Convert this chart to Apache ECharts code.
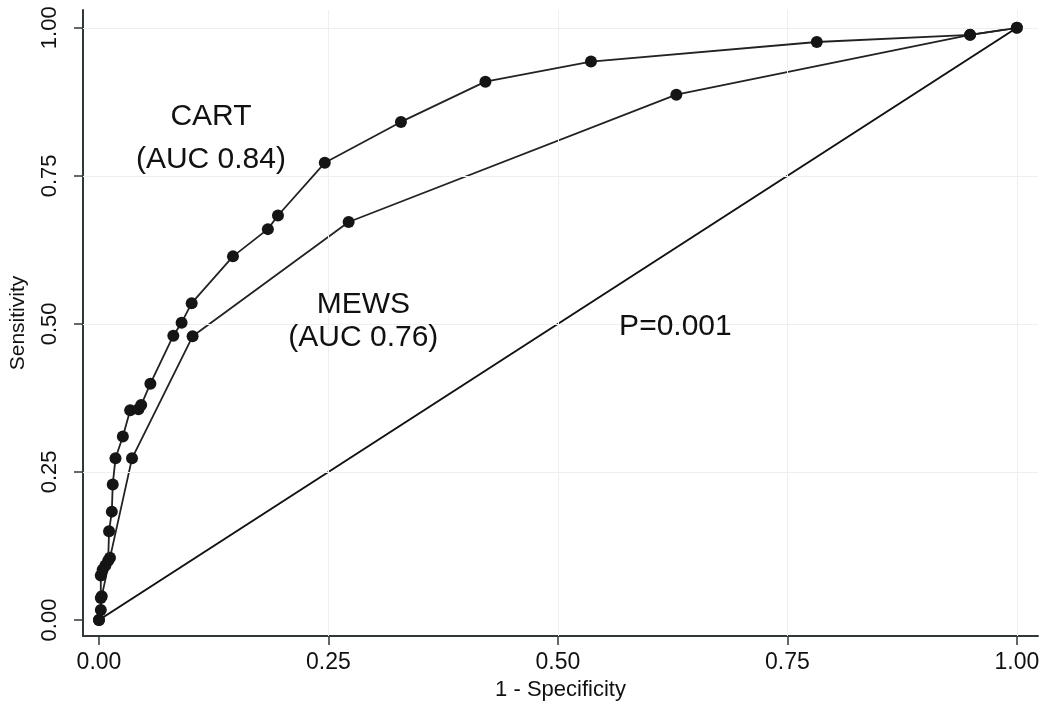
<!DOCTYPE html>
<html>
<head>
<meta charset="utf-8">
<script src="https://cdn.jsdelivr.net/npm/echarts@6/dist/echarts.min.js"></script>
<style>
html,body{margin:0;padding:0;background:#fff;}
#chart{width:1050px;height:717px;}
</style>
</head>
<body>
<div id="chart"></div>
<script>
// ---- Data ----
const tickValues = [0, 0.25, 0.5, 0.75, 1];
const gridValues = [0.25, 0.5, 0.75, 1];

const cartX = [0, 0.002, 0.002, 0.002, 0.004, 0.007, 0.010, 0.011, 0.014, 0.015, 0.018, 0.026, 0.034, 0.043, 0.046, 0.056, 0.081, 0.090, 0.101, 0.146, 0.184, 0.195, 0.246, 0.329, 0.421, 0.536, 0.782, 0.949, 1];
const cartY = [0, 0.017, 0.037, 0.075, 0.085, 0.092, 0.100, 0.150, 0.183, 0.229, 0.273, 0.310, 0.354, 0.356, 0.363, 0.399, 0.480, 0.502, 0.535, 0.614, 0.660, 0.683, 0.772, 0.841, 0.909, 0.943, 0.976, 0.988, 1];

const mewsX = [0, 0.003, 0.012, 0.036, 0.102, 0.272, 0.629, 0.949, 1];
const mewsY = [0, 0.040, 0.105, 0.273, 0.479, 0.672, 0.887, 0.988, 1];

const refX = [0, 1];
const refY = [0, 1];

const annoText = ['CART', '(AUC 0.84)', 'MEWS', '(AUC 0.76)', 'P=0.001'];
const annoX = [0.122, 0.122, 0.288, 0.288, 0.628];
const annoY = [0.850, 0.778, 0.533, 0.476, 0.496];

const xTitle = '1 - Specificity';
const yTitle = 'Sensitivity';

// ---- Chart ----
const zip = (a, b) => a.map((v, i) => [v, b[i]]);
const FONT = '"Liberation Sans", Arial, Helvetica, sans-serif';
const TXT = '#111111';
const AX = '#2c3a3a';

const chart = echarts.init(document.getElementById('chart'), null, {renderer: 'canvas'});

const axisCommon = {
  type: 'value',
  axisLine: {show: true, onZero: false, lineStyle: {color: AX, width: 2}},
  axisTick: {show: true, customValues: tickValues, length: 9, lineStyle: {color: AX, width: 1.5}},
  splitLine: {show: false},
  nameLocation: 'middle',
  nameTextStyle: {fontFamily: FONT, color: TXT, fontSize: 21}
};

chart.setOption({
  animation: false,
  backgroundColor: '#ffffff',
  grid: {left: 81, right: 12, top: 10, bottom: 81, containLabel: false},
  xAxis: Object.assign({}, axisCommon, {
    min: -0.0174, max: 1.023,
    name: xTitle, nameGap: 43,
    nameTextStyle: {fontFamily: FONT, color: TXT, fontSize: 22},
    axisLabel: {customValues: tickValues, formatter: v => v.toFixed(2), margin: 15,
      fontFamily: FONT, fontSize: 23, color: TXT}
  }),
  yAxis: Object.assign({}, axisCommon, {
    min: -0.027, max: 1.030,
    name: yTitle, nameGap: 54, nameRotate: 90,
    axisLabel: {customValues: tickValues, formatter: v => v.toFixed(2), rotate: 90, margin: 22,
      fontFamily: FONT, fontSize: 22, color: TXT}
  }),
  series: [
    {
      type: 'line', data: [], z: 1, silent: true,
      markLine: {
        silent: true, symbol: ['none', 'none'], label: {show: false},
        lineStyle: {color: '#ecf1f0', width: 1, type: 'solid'},
        data: gridValues.map(v => ({xAxis: v})).concat(gridValues.map(v => ({yAxis: v})))
      }
    },
    {
      name: 'Reference', type: 'line', data: zip(refX, refY), showSymbol: false,
      lineStyle: {color: '#111', width: 2}, z: 3
    },
    {
      name: 'MEWS', type: 'line', data: zip(mewsX, mewsY), symbol: 'circle', symbolSize: 12,
      itemStyle: {color: '#151515'}, lineStyle: {color: '#222', width: 1.8}, z: 4
    },
    {
      name: 'CART', type: 'line', data: zip(cartX, cartY), symbol: 'circle', symbolSize: 12,
      itemStyle: {color: '#151515'}, lineStyle: {color: '#222', width: 1.8}, z: 5
    },
    {
      type: 'scatter', symbolSize: 0, silent: true, z: 6,
      itemStyle: {opacity: 1, color: '#111'},
      data: annoText.map((t, i) => ({name: t, value: [annoX[i], annoY[i]]})),
      label: {show: true, position: 'inside', formatter: p => p.name, opacity: 1,
        fontFamily: FONT, fontSize: 30, color: TXT, textBorderWidth: 0}
    }
  ]
});
</script>
</body>
</html>
